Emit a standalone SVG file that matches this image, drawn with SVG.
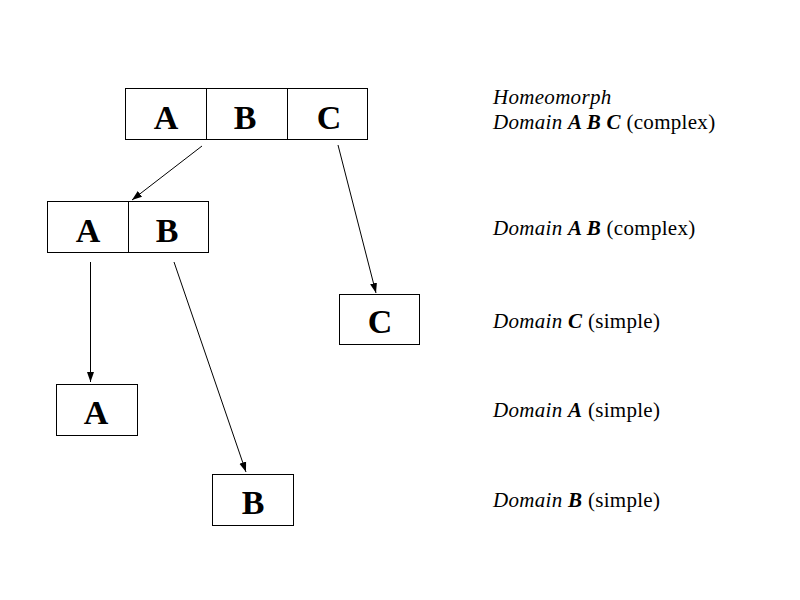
<svg xmlns="http://www.w3.org/2000/svg" width="800" height="600" viewBox="0 0 800 600">
<defs>
<marker id="ah" viewBox="0 0 10 10" refX="10" refY="5" markerWidth="10" markerHeight="10" markerUnits="userSpaceOnUse" orient="auto">
<path d="M0,1.5 L10,5 L0,8.5 Z" fill="#000"/>
</marker>
<style>
.box{fill:#fff;stroke:#000;stroke-width:1}
.lt{font-family:"Liberation Serif",serif;font-weight:bold;font-size:34px;text-anchor:middle;fill:#000}
.lbl{font-family:"Liberation Serif",serif;font-size:21px;letter-spacing:0.3px;fill:#000}
.conn{stroke:#000;stroke-width:1;fill:none;marker-end:url(#ah)}
</style>
</defs>
<rect width="800" height="600" fill="#fff"/>
<g id="node-abc">
<rect class="box" x="125.5" y="88.5" width="242" height="51"/>
<line x1="206.5" y1="88.5" x2="206.5" y2="139.5" stroke="#000"/>
<line x1="287.5" y1="88.5" x2="287.5" y2="139.5" stroke="#000"/>
<text class="lt" x="166" y="129">A</text>
<text class="lt" x="245" y="129">B</text>
<text class="lt" x="329" y="129">C</text>
</g>
<g id="node-ab">
<rect class="box" x="47.5" y="201.5" width="161" height="51"/>
<line x1="128.5" y1="201.5" x2="128.5" y2="252.5" stroke="#000"/>
<text class="lt" x="88" y="242">A</text>
<text class="lt" x="167" y="242">B</text>
</g>
<g id="node-c">
<rect class="box" x="339.5" y="294.5" width="80" height="50"/>
<text class="lt" x="380" y="333">C</text>
</g>
<g id="node-a">
<rect class="box" x="56.5" y="384.5" width="81" height="51"/>
<text class="lt" x="96" y="424">A</text>
</g>
<g id="node-b">
<rect class="box" x="212.5" y="474.5" width="81" height="51"/>
<text class="lt" x="253" y="514">B</text>
</g>
<g id="connectors">
<line class="conn" x1="202" y1="146" x2="132" y2="200"/>
<line class="conn" x1="338" y1="145" x2="376" y2="293"/>
<line class="conn" x1="90.5" y1="262" x2="90.5" y2="382"/>
<line class="conn" x1="174" y1="262" x2="246" y2="472"/>
</g>
<g id="labels">
<text class="lbl" x="493" y="104"><tspan font-style="italic">Homeomorph</tspan></text>
<text class="lbl" x="493" y="129"><tspan font-style="italic">Domain </tspan><tspan font-style="italic" font-weight="bold">A B C</tspan> (complex)</text>
<text class="lbl" x="493" y="235"><tspan font-style="italic">Domain </tspan><tspan font-style="italic" font-weight="bold">A B</tspan> (complex)</text>
<text class="lbl" x="493" y="328"><tspan font-style="italic">Domain </tspan><tspan font-style="italic" font-weight="bold">C</tspan> (simple)</text>
<text class="lbl" x="493" y="417"><tspan font-style="italic">Domain </tspan><tspan font-style="italic" font-weight="bold">A</tspan> (simple)</text>
<text class="lbl" x="493" y="507"><tspan font-style="italic">Domain </tspan><tspan font-style="italic" font-weight="bold">B</tspan> (simple)</text>
</g>
</svg>
